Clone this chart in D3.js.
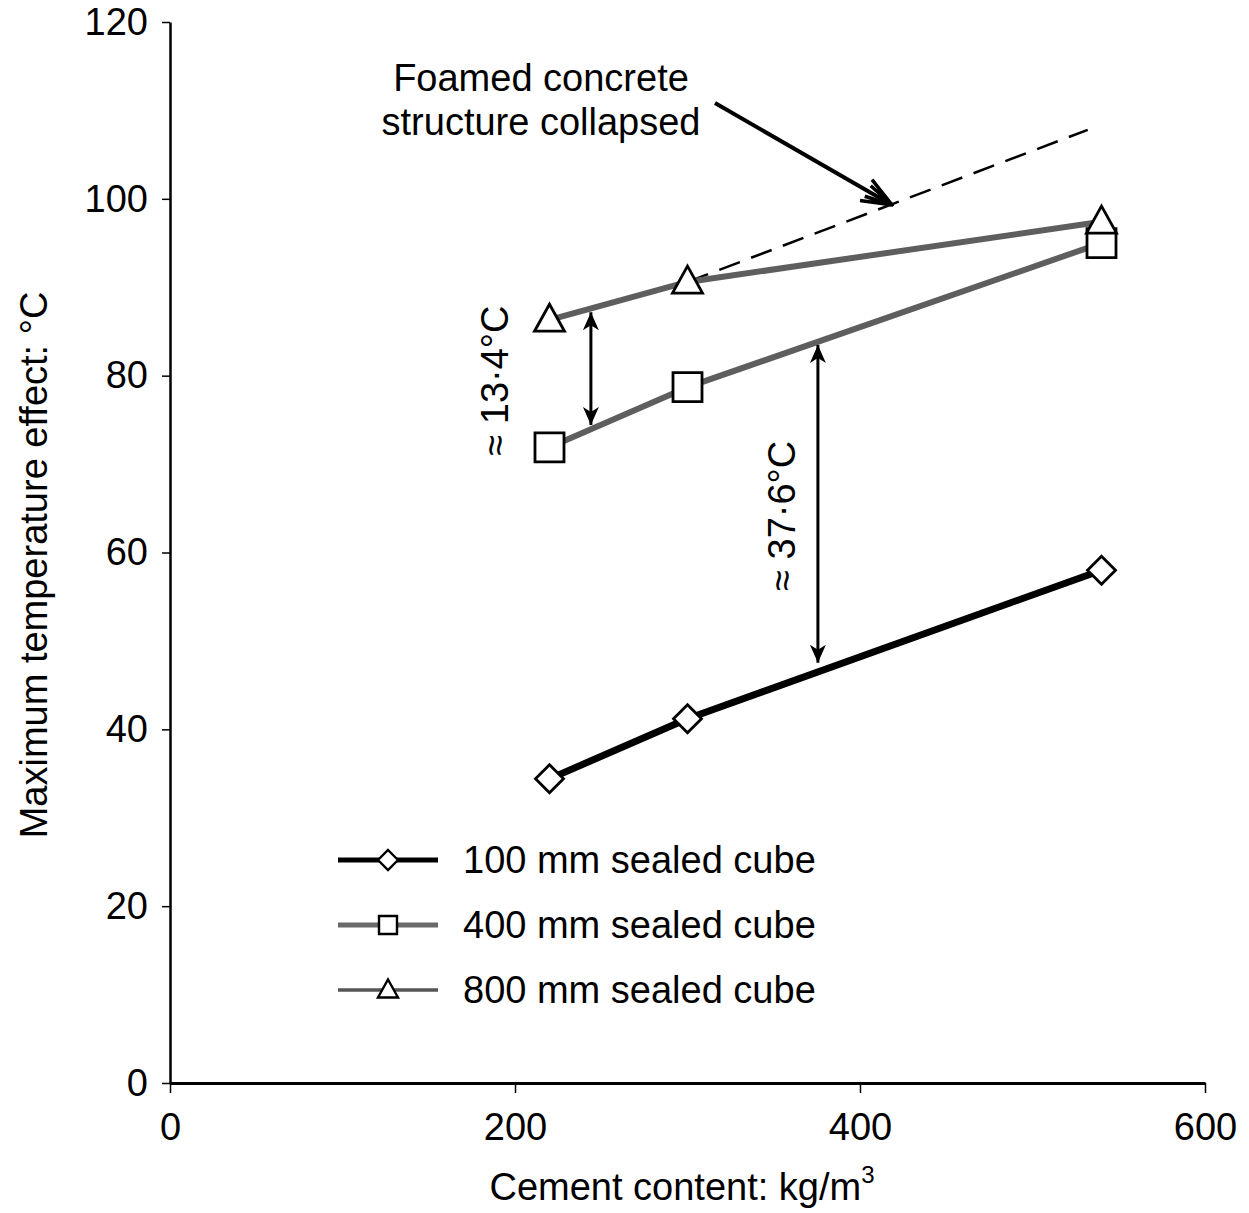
<!DOCTYPE html>
<html>
<head>
<meta charset="utf-8">
<script src="https://cdn.jsdelivr.net/npm/d3@7/dist/d3.min.js"></script>
<style>
  html, body { margin: 0; padding: 0; background: #fff; }
  svg text { font-family: "Liberation Sans", Arial, sans-serif; fill: #000; }
</style>
</head>
<body>
<svg id="chart" width="1249" height="1213"></svg>
<script>
// Cement content (kg/m3) and peak temperature rise (°C) per cube size
const cement = [220, 300, 540];
const cube100 = [34.4, 41.2, 58.0];
const cube400 = [71.9, 78.7, 95.0];
const cube800 = [86.3, 90.6, 97.4];
const seriesNames = ["100 mm sealed cube", "400 mm sealed cube", "800 mm sealed cube"];

// Extrapolated trend of the 800 mm cube beyond collapse
const trendX = [300, 532];
const trendY = [90.6, 107.8];

// Difference markers: [x, low, high]
const gapSmall = [244, 74.2, 87.4];
const gapLarge = [375.6, 47.3, 83.7];

const xTicks = [0, 200, 400, 600];
const yTicks = [0, 20, 40, 60, 80, 100, 120];

const FONT = 38;

const svg = d3.select("#chart");
const x = d3.scaleLinear().domain([0, 600]).range([170, 1205]);
const y = d3.scaleLinear().domain([0, 120]).range([1083, 22]);

// Arrowhead markers
const defs = svg.append("defs");
defs.append("marker").attr("id", "head").attr("viewBox", "0 0 18 20")
  .attr("refX", 18).attr("refY", 10).attr("markerWidth", 18).attr("markerHeight", 20)
  .attr("markerUnits", "userSpaceOnUse").attr("orient", "auto-start-reverse")
  .append("path").attr("d", "M0,2 L18,10 L0,18 L5,10 Z").attr("fill", "#000");
defs.append("marker").attr("id", "openhead").attr("viewBox", "0 0 34 28")
  .attr("refX", 32).attr("refY", 14).attr("markerWidth", 34).attr("markerHeight", 28)
  .attr("markerUnits", "userSpaceOnUse").attr("orient", "auto")
  .append("path").attr("d", "M2,2 L32,14 L2,26 M4,8 L32,14 L4,20")
  .attr("fill", "none").attr("stroke", "#000").attr("stroke-width", 3.5);

// Axes
const xAxis = svg.append("g").attr("transform", `translate(0,${y(0)})`)
  .call(d3.axisBottom(x).tickValues(xTicks).tickSize(10).tickSizeOuter(0).tickPadding(20).tickFormat(d3.format("d")));
xAxis.select(".domain").attr("stroke-width", 3);
xAxis.selectAll(".tick line").attr("stroke-width", 1.5);
xAxis.selectAll("text").attr("font-size", FONT).attr("font-family", "'Liberation Sans', Arial, sans-serif");

const yAxis = svg.append("g").attr("transform", `translate(${x(0)},0)`)
  .call(d3.axisLeft(y).tickValues(yTicks).tickSize(8).tickSizeOuter(0).tickPadding(14).tickFormat(d3.format("d")));
yAxis.select(".domain").attr("stroke-width", 2.5);
yAxis.selectAll(".tick line").attr("stroke-width", 1.5);
yAxis.selectAll("text").attr("font-size", FONT).attr("font-family", "'Liberation Sans', Arial, sans-serif");

// Axis titles
svg.append("text").attr("x", 682).attr("y", 1200).attr("text-anchor", "middle").attr("font-size", FONT)
  .text("Cement content: kg/m").append("tspan").attr("font-size", 24).attr("dy", -17).text("3");
svg.append("text").attr("transform", `translate(47,565) rotate(-90)`).attr("text-anchor", "middle")
  .attr("font-size", FONT).text("Maximum temperature effect: °C");

// Dashed extrapolation
svg.append("line")
  .attr("x1", x(trendX[0])).attr("y1", y(trendY[0])).attr("x2", x(trendX[1])).attr("y2", y(trendY[1]))
  .attr("stroke", "#000").attr("stroke-width", 2.5).attr("stroke-dasharray", "22 12");

// Series lines
const line = d3.line().x(d => x(d[0])).y(d => y(d[1]));
const series = [
  { vals: cube100, color: "#000", width: 7, shape: "diamond" },
  { vals: cube400, color: "#5e5e5e", width: 6, shape: "square" },
  { vals: cube800, color: "#5e5e5e", width: 6, shape: "triangle" }
];
series.forEach(s => {
  svg.append("path").datum(cement.map((c, i) => [c, s.vals[i]]))
    .attr("d", line).attr("fill", "none").attr("stroke", s.color).attr("stroke-width", s.width)
    .attr("stroke-linejoin", "round");
});

function shapePath(shape, r) {
  if (shape === "diamond") return `M0,${-r}L${r},0L0,${r}L${-r},0Z`;
  if (shape === "square") return `M${-r},${-r}H${r}V${r}H${-r}Z`;
  return `M0,${-r * 1.05}L${r},${r * 0.75}L${-r},${r * 0.75}Z`;
}
const markerR = { diamond: 14, square: 14.5, triangle: 15 };
series.forEach(s => {
  svg.append("g").selectAll("path").data(cement.map((c, i) => [c, s.vals[i]])).join("path")
    .attr("transform", d => `translate(${x(d[0])},${y(d[1])})`)
    .attr("d", shapePath(s.shape, markerR[s.shape]))
    .attr("fill", "#fff").attr("stroke", "#000").attr("stroke-width", 2.8);
});

// Difference arrows and labels
[[gapSmall, "≈ 13·4°C", 508], [gapLarge, "≈ 37·6°C", 795]].forEach(([g, label, lx]) => {
  svg.append("line").attr("x1", x(g[0])).attr("x2", x(g[0]))
    .attr("y1", y(g[1]) - 2).attr("y2", y(g[2]) + 2)
    .attr("stroke", "#000").attr("stroke-width", 3)
    .attr("marker-start", "url(#head)").attr("marker-end", "url(#head)");
  const cy = (y(g[1]) + y(g[2])) / 2;
  svg.append("text").attr("transform", `translate(${lx},${cy + 12}) rotate(-90)`)
    .attr("text-anchor", "middle").attr("font-size", FONT).text(label);
});

// Collapse annotation
svg.append("text").attr("x", 541).attr("y", 91).attr("text-anchor", "middle").attr("font-size", FONT)
  .text("Foamed concrete");
svg.append("text").attr("x", 541).attr("y", 135).attr("text-anchor", "middle").attr("font-size", FONT)
  .text("structure collapsed");
svg.append("line").attr("x1", 715).attr("y1", 103).attr("x2", 892).attr("y2", 205)
  .attr("stroke", "#000").attr("stroke-width", 4).attr("marker-end", "url(#openhead)");

// Legend
const legend = svg.append("g");
const legendY = [860, 925, 990];
const legendStyle = [
  { color: "#000", width: 5, shape: "diamond", r: 10 },
  { color: "#6a6a6a", width: 5, shape: "square", r: 9 },
  { color: "#555", width: 3.5, shape: "triangle", r: 10 }
];
seriesNames.forEach((name, i) => {
  const st = legendStyle[i];
  legend.append("line").attr("x1", 338).attr("x2", 438).attr("y1", legendY[i]).attr("y2", legendY[i])
    .attr("stroke", st.color).attr("stroke-width", st.width);
  legend.append("path").attr("transform", `translate(388,${legendY[i]})`)
    .attr("d", shapePath(st.shape, st.r)).attr("fill", "#fff").attr("stroke", "#000").attr("stroke-width", 2.4);
  legend.append("text").attr("x", 463).attr("y", legendY[i] + 13).attr("font-size", FONT).text(name);
});
</script>
</body>
</html>
